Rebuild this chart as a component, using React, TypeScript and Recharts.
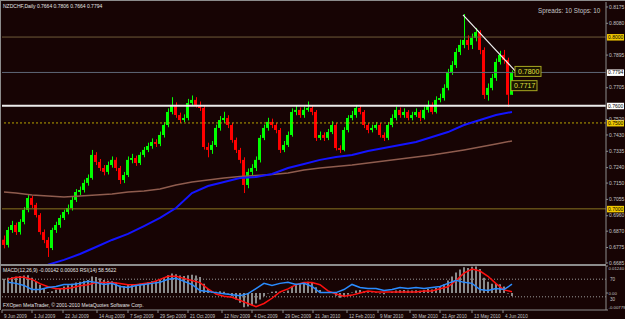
import React from "react";
import { ComposedChart, Bar, Line, XAxis, YAxis, ReferenceLine, ReferenceDot } from "recharts";

// NZDCHF daily, one candle per two trading days
const opens = [
  0.6820, 0.6790, 0.6877, 0.6906, 0.6865, 0.6924, 0.6994, 0.7063, 0.7023, 0.6964,
  0.6865, 0.6819, 0.6772, 0.6877, 0.6906, 0.6947, 0.6982, 0.7005, 0.7052, 0.7098,
  0.7110, 0.7151, 0.7180, 0.7314, 0.7273, 0.7238, 0.7215, 0.7255, 0.7285, 0.7238,
  0.7168, 0.7197, 0.7285, 0.7296, 0.7267, 0.7314, 0.7343, 0.7366, 0.7389, 0.7378,
  0.7430, 0.7488, 0.7564, 0.7605, 0.7546, 0.7517, 0.7529, 0.7616, 0.7634, 0.7605,
  0.7587, 0.7360, 0.7343, 0.7372, 0.7471, 0.7517, 0.7529, 0.7488, 0.7401, 0.7343,
  0.7285, 0.7139, 0.7215, 0.7238, 0.7285, 0.7413, 0.7471, 0.7506, 0.7488, 0.7459,
  0.7343, 0.7372, 0.7430, 0.7564, 0.7576, 0.7546, 0.7576, 0.7587, 0.7564, 0.7413,
  0.7430, 0.7413, 0.7447, 0.7488, 0.7354, 0.7343, 0.7459, 0.7529, 0.7546, 0.7587,
  0.7564, 0.7488, 0.7459, 0.7471, 0.7488, 0.7430, 0.7413, 0.7488, 0.7529, 0.7576,
  0.7546, 0.7564, 0.7529, 0.7546, 0.7564, 0.7529, 0.7576, 0.7605, 0.7564, 0.7634,
  0.7645, 0.7704, 0.7797, 0.7837, 0.7913, 0.7954, 0.7983, 0.7954, 0.7995, 0.8029,
  0.7925, 0.7663, 0.7704, 0.7762, 0.7855, 0.7896, 0.7867, 0.7664,
];
const highs = [
  0.6845, 0.6895, 0.6930, 0.6920, 0.6940, 0.7010, 0.7080, 0.7075, 0.7035, 0.6975,
  0.6880, 0.6835, 0.6890, 0.6925, 0.6965, 0.6995, 0.7025, 0.7070, 0.7115, 0.7130,
  0.7170, 0.7200, 0.7343, 0.7330, 0.7290, 0.7255, 0.7275, 0.7305, 0.7300, 0.7250,
  0.7215, 0.7305, 0.7320, 0.7310, 0.7330, 0.7360, 0.7385, 0.7410, 0.7405, 0.7450,
  0.7505, 0.7585, 0.7650, 0.7620, 0.7560, 0.7550, 0.7640, 0.7660, 0.7650, 0.7625,
  0.7600, 0.7385, 0.7395, 0.7490, 0.7540, 0.7565, 0.7545, 0.7500, 0.7415, 0.7355,
  0.7300, 0.7235, 0.7260, 0.7305, 0.7430, 0.7490, 0.7530, 0.7525, 0.7500, 0.7470,
  0.7395, 0.7450, 0.7585, 0.7600, 0.7590, 0.7595, 0.7625, 0.7600, 0.7575, 0.7450,
  0.7445, 0.7465, 0.7510, 0.7500, 0.7370, 0.7475, 0.7545, 0.7570, 0.7605, 0.7600,
  0.7575, 0.7500, 0.7490, 0.7505, 0.7500, 0.7445, 0.7505, 0.7550, 0.7595, 0.7590,
  0.7585, 0.7575, 0.7565, 0.7585, 0.7575, 0.7595, 0.7630, 0.7620, 0.7655, 0.7670,
  0.7725, 0.7815, 0.7860, 0.7935, 0.7985, 0.8134, 0.8010, 0.8020, 0.8053, 0.8040,
  0.7940, 0.7730, 0.7785, 0.7875, 0.7920, 0.7925, 0.7880, 0.7806,
];
const lows = [
  0.6770, 0.6775, 0.6860, 0.6848, 0.6850, 0.6910, 0.6980, 0.7005, 0.6950, 0.6850,
  0.6800, 0.6720, 0.6760, 0.6860, 0.6890, 0.6935, 0.6968, 0.6990, 0.7040, 0.7080,
  0.7095, 0.7135, 0.7170, 0.7255, 0.7220, 0.7195, 0.7200, 0.7240, 0.7220, 0.7145,
  0.7150, 0.7185, 0.7265, 0.7250, 0.7255, 0.7300, 0.7330, 0.7350, 0.7360, 0.7365,
  0.7415, 0.7475, 0.7550, 0.7530, 0.7500, 0.7505, 0.7515, 0.7600, 0.7590, 0.7570,
  0.7345, 0.7300, 0.7320, 0.7360, 0.7455, 0.7500, 0.7470, 0.7385, 0.7325, 0.7265,
  0.7092, 0.7120, 0.7195, 0.7220, 0.7270, 0.7400, 0.7455, 0.7470, 0.7440, 0.7325,
  0.7330, 0.7360, 0.7420, 0.7545, 0.7530, 0.7530, 0.7565, 0.7545, 0.7395, 0.7400,
  0.7395, 0.7400, 0.7435, 0.7340, 0.7325, 0.7335, 0.7445, 0.7515, 0.7530, 0.7550,
  0.7470, 0.7440, 0.7445, 0.7460, 0.7415, 0.7395, 0.7400, 0.7475, 0.7515, 0.7530,
  0.7530, 0.7515, 0.7515, 0.7535, 0.7510, 0.7520, 0.7560, 0.7550, 0.7555, 0.7620,
  0.7630, 0.7690, 0.7780, 0.7820, 0.7895, 0.7935, 0.7925, 0.7930, 0.7975, 0.7900,
  0.7640, 0.7630, 0.7690, 0.7745, 0.7840, 0.7845, 0.7593, 0.7664,
];
const closes = [
  0.6790, 0.6877, 0.6906, 0.6865, 0.6924, 0.6994, 0.7063, 0.7023, 0.6964, 0.6865,
  0.6819, 0.6772, 0.6877, 0.6906, 0.6947, 0.6982, 0.7005, 0.7052, 0.7098, 0.7110,
  0.7151, 0.7180, 0.7314, 0.7273, 0.7238, 0.7215, 0.7255, 0.7285, 0.7238, 0.7168,
  0.7197, 0.7285, 0.7296, 0.7267, 0.7314, 0.7343, 0.7366, 0.7389, 0.7378, 0.7430,
  0.7488, 0.7564, 0.7605, 0.7546, 0.7517, 0.7529, 0.7616, 0.7634, 0.7605, 0.7587,
  0.7360, 0.7343, 0.7372, 0.7471, 0.7517, 0.7529, 0.7488, 0.7401, 0.7343, 0.7285,
  0.7139, 0.7215, 0.7238, 0.7285, 0.7413, 0.7471, 0.7506, 0.7488, 0.7459, 0.7343,
  0.7372, 0.7430, 0.7564, 0.7576, 0.7546, 0.7576, 0.7587, 0.7564, 0.7413, 0.7430,
  0.7413, 0.7447, 0.7488, 0.7354, 0.7343, 0.7459, 0.7529, 0.7546, 0.7587, 0.7564,
  0.7488, 0.7459, 0.7471, 0.7488, 0.7430, 0.7413, 0.7488, 0.7529, 0.7576, 0.7546,
  0.7564, 0.7529, 0.7546, 0.7564, 0.7529, 0.7576, 0.7605, 0.7564, 0.7634, 0.7645,
  0.7704, 0.7797, 0.7837, 0.7913, 0.7954, 0.7983, 0.7954, 0.7995, 0.8029, 0.7925,
  0.7663, 0.7704, 0.7762, 0.7855, 0.7896, 0.7867, 0.7664, 0.7794,
];

// moving averages, read every 4th candle (first value = first candle)
const maSlow = [
  0.7098, 0.7092, 0.7081, 0.7075, 0.7069, 0.7075, 0.7081, 0.7087, 0.7098, 0.7104,
  0.7116, 0.7139, 0.7156, 0.7168, 0.7180, 0.7189, 0.7194, 0.7200, 0.7209, 0.7226,
  0.7238, 0.7247, 0.7255, 0.7267, 0.7279, 0.7290, 0.7302, 0.7314, 0.7328, 0.7343,
  0.7360, 0.7378, 0.7395,
];
const maFast = [
  null, null, null, 0.6675, 0.6703, 0.6737, 0.6778, 0.6819, 0.6854, 0.6900,
  0.6947, 0.7005, 0.7092, 0.7133, 0.7156, 0.7180, 0.7186, 0.7203, 0.7238, 0.7261,
  0.7285, 0.7302, 0.7314, 0.7337, 0.7354, 0.7372, 0.7389, 0.7418, 0.7447, 0.7488,
  0.7517, 0.7546, 0.7564,
];

// MACD(12,26,9) main as histogram, one per candle
const macdHist = [
  0.00650, 0.00700, 0.00720, 0.00750, 0.00780, 0.00800, 0.00820, 0.00700, 0.00550, 0.00380,
  0.00200, 0.00050, 0.00080, 0.00150, 0.00220, 0.00300, 0.00360, 0.00420, 0.00480, 0.00520,
  0.00560, 0.00600, 0.00760, 0.00740, 0.00680, 0.00600, 0.00560, 0.00540, 0.00480, 0.00350,
  0.00320, 0.00380, 0.00400, 0.00380, 0.00420, 0.00460, 0.00500, 0.00540, 0.00540, 0.00600,
  0.00700, 0.00820, 0.00900, 0.00860, 0.00800, 0.00780, 0.00820, 0.00840, 0.00800, 0.00740,
  0.00420, 0.00180, 0.00040, 0.00060, 0.00080, 0.00060, -0.00020, -0.00150, -0.00300, -0.00450,
  -0.00650, -0.00620, -0.00560, -0.00480, -0.00300, -0.00150, -0.00020, 0.00060, 0.00080, 0.00020,
  0.00040, 0.00120, 0.00300, 0.00420, 0.00460, 0.00500, 0.00520, 0.00480, 0.00260, 0.00140,
  0.00040, 0.00000, 0.00020, -0.00120, -0.00220, -0.00180, -0.00080, 0.00020, 0.00120, 0.00140,
  0.00080, 0.00030, 0.00020, 0.00030, -0.00020, -0.00060, 0.00000, 0.00060, 0.00120, 0.00130,
  0.00140, 0.00120, 0.00120, 0.00130, 0.00110, 0.00140, 0.00180, 0.00160, 0.00230, 0.00290,
  0.00400, 0.00580, 0.00760, 0.00940, 0.01080, 0.01180, 0.01150, 0.01200, 0.01220, 0.01100,
  0.00700, 0.00520, 0.00420, 0.00440, 0.00400, 0.00300, -0.00020, -0.00142,
];
// signal and RSI(14), read every 2nd candle
const macdSignal = [
  0.00624, 0.00720, 0.00720, 0.00624, 0.00432, 0.00288, 0.00192, 0.00192, 0.00240, 0.00336,
  0.00384, 0.00480, 0.00480, 0.00480, 0.00432, 0.00384, 0.00384, 0.00432, 0.00480, 0.00624,
  0.00768, 0.00768, 0.00672, 0.00576, 0.00480, 0.00192, -0.00048, -0.00144, -0.00192, -0.00336,
  -0.00480, -0.00624, -0.00480, -0.00240, 0.00048, 0.00192, 0.00384, 0.00480, 0.00480, 0.00384,
  0.00096, -0.00048, -0.00144, -0.00096, 0.00000, 0.00096, 0.00048, 0.00048, 0.00048, 0.00048,
  0.00048, 0.00048, 0.00096, 0.00096, 0.00192, 0.00288, 0.00576, 0.00912, 0.01104, 0.01008,
  0.00768, 0.00432, 0.00144, 0.00063,
];
const rsi = [
  62.8, 60.5, 55.8, 46.5, 46.5, 51.2, 53.5, 58.1, 58.1, 60.5,
  65.1, 62.8, 58.1, 60.5, 53.5, 51.2, 55.8, 58.1, 60.5, 62.8,
  69.8, 72.1, 65.1, 58.1, 44.2, 41.9, 39.5, 37.2, 34.9, 32.6,
  37.2, 48.8, 60.5, 55.8, 60.5, 62.8, 58.1, 60.5, 53.5, 39.5,
  39.5, 39.5, 46.5, 58.1, 51.2, 48.8, 48.8, 44.2, 46.5, 51.2,
  48.8, 51.2, 48.8, 51.2, 53.5, 60.5, 67.4, 62.8, 60.5, 46.5,
  44.2, 48.8, 46.5, 58.56,
];

// price scale labels that are not hidden behind a level badge
const priceTicks = [
  0.8175, 0.808, 0.7895, 0.7705, 0.752, 0.743, 0.7335,
  0.724, 0.715, 0.7055, 0.696, 0.687, 0.6775, 0.6685,
];
const levels = [0.8, 0.7794, 0.76, 0.75, 0.7];
const levelText = ["0.8000", "0.7794", "0.7600", "0.7500", "0.7000"];
const trendLine = [
  { i: 114.75, price: 0.8129 },
  { i: 129, price: 0.7773 },
];
const priceLabels = [
  { i: 128, price: 0.78, text: "0.7800" },
  { i: 127, price: 0.7717, text: "0.7717" },
];
const macdTicks = [0.0124, 0, -0.00779];
const macdTickText = ["0.01240", "0.00", "-0.00779"];
const rsiLevels = [70, 30];
const dateBars = [-0.5, 7, 14.75, 23.25, 31, 38.5, 46, 54.5, 62, 69.75, 77.25, 85.75, 93.5, 101.5, 109, 117, 124.75];
const dateLabels = [
  "9 Jun 2009", "1 Jul 2009", "22 Jul 2009", "14 Aug 2009", "7 Sep 2009", "29 Sep 2009",
  "21 Oct 2009", "12 Nov 2009", "4 Dec 2009", "29 Dec 2009", "21 Jan 2010", "12 Feb 2010",
  "9 Mar 2010", "30 Mar 2010", "21 Apr 2010", "13 May 2010", "4 Jun 2010",
];

const maBars = [0, ...maSlow.slice(1).map((_, k) => 3 + 4 * k)];

const rows = closes.map((close, i) => {
  const m = maBars.indexOf(i);
  const s = i % 2 === 1 ? (i - 1) / 2 : -1;
  return {
    i,
    open: opens[i],
    high: highs[i],
    low: lows[i],
    close,
    range: [lows[i], highs[i]],
    maSlow: m >= 0 ? maSlow[m] : null,
    maFast: m >= 0 ? maFast[m] : null,
    hist: macdHist[i],
    signal: s >= 0 ? macdSignal[s] : null,
    rsi: s >= 0 ? rsi[s] : null,
  };
});

const BG = "#170404";
const GRID = "#8c8c8c";
const TXT = "#c4c4c4";
const FONT = "'Liberation Sans', Arial, sans-serif";
const X_DOMAIN: [number, number] = [-0.5, 150.5];
const levelStroke = ["#6f5c3a", "#5f6878", "#ececec", "#b8a400", "#8a7420"];
const levelWidth = [1, 1, 2, 1, 1];
const levelDash = [undefined, undefined, undefined, "2 2", undefined];
const badgeFill = ["#f0c800", "#ffffff", "#ffffff", "#f0c800", "#f0c800"];

const Candle = (props: any) => {
  const { x, y, width, height, payload } = props;
  const top = Math.min(y, y + height);
  const span = Math.abs(height);
  const { open, close, high, low } = payload;
  const k = span / (high - low || 1);
  const bTop = top + (high - Math.max(open, close)) * k;
  const bBot = top + (high - Math.min(open, close)) * k;
  const color = close >= open ? "#00ff00" : "#ff0000";
  const cx = Math.round(x + width / 2) + 0.5;
  return (
    <g>
      <line x1={cx} x2={cx} y1={top} y2={top + span} stroke={color} strokeWidth={1} />
      <rect x={x} y={bTop} width={width} height={Math.max(1, bBot - bTop)} fill={color} />
    </g>
  );
};

const PriceTick = (props: any) => {
  const { x, y, payload } = props;
  return (
    <g>
      <line x1={x} x2={x + 2} y1={y} y2={y} stroke={GRID} />
      <text x={x + 3} y={y + 1.6} fontSize={5} fill={TXT} fontFamily={FONT}>
        {payload.value.toFixed(4)}
      </text>
    </g>
  );
};

const MacdTick = (props: any) => {
  const { x, y, payload } = props;
  const idx = macdTicks.indexOf(payload.value);
  const dy = idx === 0 ? 4 : idx === 2 ? -1 : 1.6;
  return (
    <g>
      <line x1={x} x2={x + 2} y1={y} y2={y} stroke={GRID} />
      <text x={x + 2.5} y={y + dy} fontSize={4.3} fill={TXT} fontFamily={FONT}>
        {macdTickText[idx]}
      </text>
    </g>
  );
};

const DateTick = (props: any) => {
  const { x, y, payload } = props;
  const idx = dateBars.indexOf(payload.value);
  return (
    <g>
      <line x1={x} x2={x} y1={y} y2={y + 3} stroke={GRID} />
      <text x={x + 2} y={y + 7.5} fontSize={4.6} fill={TXT} fontFamily={FONT}>
        {dateLabels[idx]}
      </text>
    </g>
  );
};

const badge = (text: string, fill: string) => (p: any) => {
  const vb = p.viewBox || {};
  const bx = vb.x + vb.width + 1;
  return (
    <g>
      <rect x={bx} y={vb.y - 3} width={17} height={6.5} fill={fill} />
      <text x={bx + 1} y={vb.y + 1.8} fontSize={5} fill="#000" fontFamily={FONT}>
        {text}
      </text>
    </g>
  );
};

const sideLabel = (text: string, dy: number) => (p: any) => {
  const vb = p.viewBox || {};
  return (
    <text x={vb.x + vb.width + 4} y={vb.y + dy} fontSize={4.6} fill={TXT} fontFamily={FONT}>
      {text}
    </text>
  );
};

const PriceBox = (text: string) => (p: any) => (
  <g>
    <rect x={p.cx - 1} y={p.cy - 5} width={26} height={10} fill="#1a1400" stroke="#a8a820" strokeWidth={1} />
    <text x={p.cx + 2} y={p.cy + 2.5} fontSize={7} fill="#e0e040" fontFamily={FONT}>
      {text}
    </text>
  </g>
);

export default function App() {
  return (
    <div style={{ position: "absolute", left: 0, top: 0, width: 625, height: 319, background: BG, overflow: "hidden" }}>
      <div style={{ position: "absolute", left: 0, top: 0 }}>
        <ComposedChart width={625} height={265} data={rows} margin={{ top: 2, right: 0, bottom: 1, left: 2 }}>
          <XAxis type="number" dataKey="i" domain={X_DOMAIN} hide allowDataOverflow />
          <YAxis
            yAxisId="p"
            orientation="right"
            width={19}
            domain={[0.6679, 0.8204]}
            ticks={priceTicks}
            interval={0}
            allowDataOverflow
            axisLine={{ stroke: GRID }}
            tickLine={false}
            tickSize={0}
            tickMargin={0}
            tick={<PriceTick />}
          />
          {levels.map((lv, k) => (
            <ReferenceLine
              key={`lv-${k}`}
              yAxisId="p"
              y={lv}
              stroke={levelStroke[k]}
              strokeWidth={levelWidth[k]}
              strokeDasharray={levelDash[k]}
              label={{ content: badge(levelText[k], badgeFill[k]) }}
            />
          ))}
          <Line
            yAxisId="p"
            dataKey="maSlow"
            stroke="#8f5c4e"
            strokeWidth={1.5}
            dot={false}
            connectNulls
            isAnimationActive={false}
          />
          <Line
            yAxisId="p"
            dataKey="maFast"
            stroke="#1414ff"
            strokeWidth={2}
            dot={false}
            connectNulls
            isAnimationActive={false}
          />
          <Bar yAxisId="p" dataKey="range" barSize={3} shape={Candle} isAnimationActive={false} />
          <ReferenceLine
            yAxisId="p"
            segment={trendLine.map((t) => ({ x: t.i, y: t.price }))}
            stroke="#f2f2f2"
            strokeWidth={1.2}
          />
          {priceLabels.map((pl, k) => (
            <ReferenceDot key={`pl-${k}`} yAxisId="p" x={pl.i} y={pl.price} r={0} shape={PriceBox(pl.text)} />
          ))}
        </ComposedChart>
      </div>
      <div style={{ position: "absolute", left: 0, top: 265 }}>
        <ComposedChart width={625} height={54} data={rows} margin={{ top: 1, right: 0, bottom: 0, left: 2 }}>
          <XAxis
            type="number"
            dataKey="i"
            domain={X_DOMAIN}
            ticks={dateBars}
            interval={0}
            allowDataOverflow
            height={9}
            axisLine={{ stroke: GRID }}
            tickLine={false}
            tickSize={0}
            tickMargin={0}
            tick={<DateTick />}
          />
          <YAxis
            yAxisId="m"
            orientation="right"
            width={19}
            domain={[-0.00779, 0.0124]}
            ticks={macdTicks}
            interval={0}
            allowDataOverflow
            axisLine={{ stroke: GRID }}
            tickLine={false}
            tickSize={0}
            tickMargin={0}
            tick={<MacdTick />}
          />
          <YAxis yAxisId="r" hide domain={[0, 100]} allowDataOverflow />
          {rsiLevels.map((lv, k) => (
            <ReferenceLine
              key={`rl-${k}`}
              yAxisId="r"
              y={lv}
              stroke="#9a9a9a"
              strokeDasharray="1 2"
              label={{ content: sideLabel(String(lv), k === 0 ? 1.8 : 4) }}
            />
          ))}
          <Bar yAxisId="m" dataKey="hist" barSize={2} fill="#8a8a8a" isAnimationActive={false} />
          <Line
            yAxisId="m"
            dataKey="signal"
            stroke="#ff1010"
            strokeWidth={1.5}
            dot={false}
            connectNulls
            isAnimationActive={false}
          />
          <Line
            yAxisId="r"
            dataKey="rsi"
            stroke="#2a8cff"
            strokeWidth={1.5}
            dot={false}
            connectNulls
            isAnimationActive={false}
          />
        </ComposedChart>
      </div>
      <div style={{ position: "absolute", left: 0, top: 0, width: 625, height: 1, background: GRID }} />
      <div style={{ position: "absolute", left: 0, top: 0, width: 1, height: 310, background: GRID }} />
      <div style={{ position: "absolute", left: 0, top: 264, width: 606, height: 2, background: GRID }} />
      <svg width={625} height={319} style={{ position: "absolute", left: 0, top: 0, pointerEvents: "none" }}>
        <text x={3} y={8} fontSize={5} fill="#e4e4e4" fontFamily={FONT}>
          NZDCHF,Daily  0.7664 0.7806 0.7664 0.7794
        </text>
        <text x={538} y={13} fontSize={6.3} fill={TXT} fontFamily={FONT}>
          Spreads: 10 Stops: 10
        </text>
        <text x={3} y={272} fontSize={5} fill="#e4e4e4" fontFamily={FONT}>
          MACD(12,26,9) -0.00142 0.00063 RSI(14) 58.5622
        </text>
        <text x={3} y={307} fontSize={5} fill="#e4e4e4" fontFamily={FONT}>
          FXOpen MetaTrader, © 2001-2010 MetaQuotes Software Corp.
        </text>
      </svg>
    </div>
  );
}
